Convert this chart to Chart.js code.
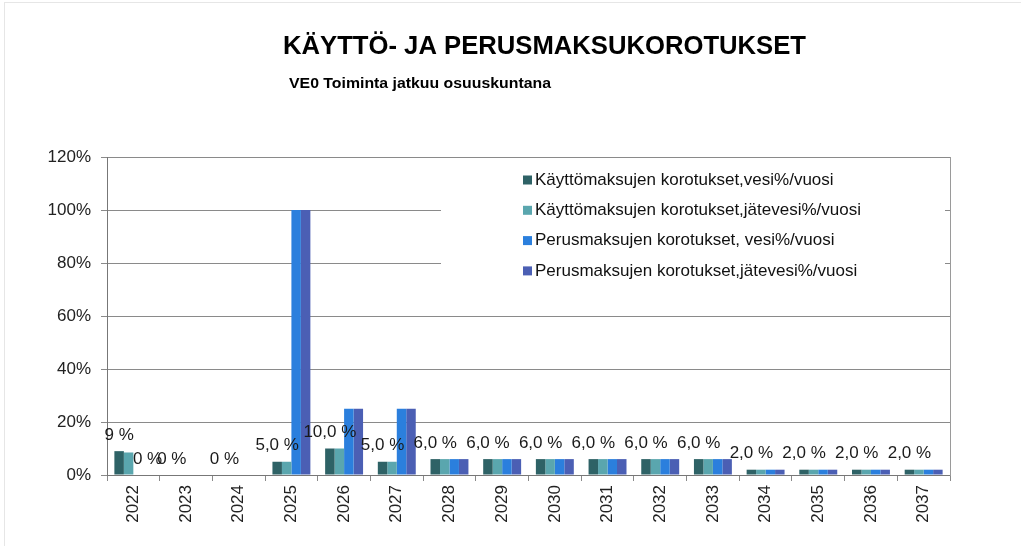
<!DOCTYPE html>
<html>
<head>
<meta charset="utf-8">
<script src="https://cdn.jsdelivr.net/npm/chart.js@4.4.0/dist/chart.umd.min.js"></script>
<style>
  html, body { margin: 0; padding: 0; background: #fff; }
  #wrap { position: relative; width: 1021px; height: 546px; overflow: hidden; }
  #frame { position: absolute; left: 4px; top: 2px; width: 1100px; height: 600px;
           border-left: 1px solid #e6e6e6; border-top: 1px solid #e6e6e6; }
  canvas { position: absolute; left: 0; top: 0; }
</style>
</head>
<body>
<div id="wrap">
  <div id="frame"></div>
  <canvas id="myChart" width="1021" height="546"></canvas>
</div>
<script>
// vuodet
var years = ["2022", "2023", "2024", "2025", "2026", "2027", "2028", "2029",
             "2030", "2031", "2032", "2033", "2034", "2035", "2036", "2037"];

// korotukset %/vuosi
var kayttoVesi     = [9, 0, 0, 5, 10, 5, 6, 6, 6, 6, 6, 6, 2, 2, 2, 2];
var kayttoJatevesi = [8.5, 0, 0, 5, 10, 5, 6, 6, 6, 6, 6, 6, 2, 2, 2, 2];
var perusVesi      = [0, 0, 0, 100, 25, 25, 6, 6, 6, 6, 6, 6, 2, 2, 2, 2];
var perusJatevesi  = [0, 0, 0, 100, 25, 25, 6, 6, 6, 6, 6, 6, 2, 2, 2, 2];

// arvojen tekstit (Excelin datalabelit)
var labelsKayttoVesi = ["9 %", "0 %", "0 %", "5,0 %", "10,0 %", "5,0 %", "6,0 %", "6,0 %",
                        "6,0 %", "6,0 %", "6,0 %", "6,0 %", "2,0 %", "2,0 %", "2,0 %", "2,0 %"];
var labelsPerusJatevesi = ["0 %", null, null, null, null, null, null, null,
                           null, null, null, null, null, null, null, null];

var yTicks = [0, 20, 40, 60, 80, 100, 120];

var FONT = "'Liberation Sans', Arial, sans-serif";
Chart.defaults.font.family = FONT;
Chart.defaults.font.size = 17;
Chart.defaults.color = "#222";

// otsikot, datalabelit ja selite
var extras = {
  id: "extras",
  afterDatasetsDraw: function (chart) {
    var ctx = chart.ctx;
    ctx.save();
    ctx.font = "17px " + FONT;
    ctx.fillStyle = "#1a1a1a";
    ctx.textAlign = "center";
    ctx.textBaseline = "middle";
    [[0, labelsKayttoVesi], [3, labelsPerusJatevesi]].forEach(function (pair) {
      var meta = chart.getDatasetMeta(pair[0]);
      meta.data.forEach(function (bar, i) {
        if (pair[1][i]) ctx.fillText(pair[1][i], bar.x, bar.y - 16);
      });
    });
    ctx.restore();
  },
  afterDraw: function (chart) {
    var ctx = chart.ctx;
    ctx.save();

    // selitelaatikko
    ctx.fillStyle = "#fff";
    ctx.fillRect(441, 163, 504, 128);
    ctx.font = "17px " + FONT;
    ctx.textBaseline = "middle";
    ctx.textAlign = "left";
    chart.data.datasets.forEach(function (ds, i) {
      var y = 180 + i * 30.3;
      ctx.fillStyle = ds.backgroundColor;
      ctx.fillRect(523, y - 4.5, 9, 9);
      ctx.fillStyle = "#111";
      ctx.fillText(ds.label, 535, y);
    });

    // otsikko
    ctx.fillStyle = "#000";
    ctx.textAlign = "center";
    ctx.font = "bold 25px " + FONT;
    var t = "KÄYTTÖ- JA PERUSMAKSUKOROTUKSET";
    var w = ctx.measureText(t).width;
    ctx.save();
    ctx.translate(544.5, 47);
    ctx.scale(523 / w, 1);
    ctx.fillText(t, 0, 0);
    ctx.restore();

    // alaotsikko
    ctx.textAlign = "left";
    ctx.font = "bold 15px " + FONT;
    var s = "VE0 Toiminta jatkuu osuuskuntana";
    var ws = ctx.measureText(s).width;
    ctx.save();
    ctx.translate(289, 84);
    ctx.scale(262 / ws, 1);
    ctx.fillText(s, 0, 0);
    ctx.restore();

    ctx.restore();
  }
};

var ctx = document.getElementById("myChart").getContext("2d");
var chart = new Chart(ctx, {
  type: "bar",
  data: {
    labels: years,
    datasets: [
      { label: "Käyttömaksujen korotukset,vesi%/vuosi", backgroundColor: "#2e6266", data: kayttoVesi },
      { label: "Käyttömaksujen korotukset,jätevesi%/vuosi", backgroundColor: "#5aa6ae", data: kayttoJatevesi },
      { label: "Perusmaksujen korotukset, vesi%/vuosi", backgroundColor: "#2b7fdd", data: perusVesi },
      { label: "Perusmaksujen korotukset,jätevesi%/vuosi", backgroundColor: "#4b5fb4", data: perusJatevesi }
    ]
  },
  plugins: [extras],
  options: {
    responsive: false,
    animation: false,
    layout: { padding: { top: 157, right: 71, left: 0, bottom: 0 } },
    datasets: { bar: { barPercentage: 1, categoryPercentage: 0.72 } },
    plugins: {
      legend: { display: false },
      title: { display: false },
      tooltip: { enabled: false }
    },
    scales: {
      x: {
        offset: true,
        grid: { offset: true, drawOnChartArea: false, tickLength: 6, color: "#8a8a8a" },
        border: { color: "#777" },
        ticks: { minRotation: 90, maxRotation: 90, padding: 4, autoSkip: false },
        afterFit: function (s) { s.height = 71; }
      },
      y: {
        position: "left",
        min: 0,
        max: 120,
        afterBuildTicks: function (s) { s.ticks = yTicks.map(function (v) { return { value: v }; }); },
        grid: { color: "#8a8a8a", tickLength: 6 },
        border: { color: "#777" },
        ticks: { padding: 10, callback: function (v) { return v + "%"; } },
        afterFit: function (s) { s.width = 107; }
      },
      y2: {
        position: "right",
        min: 0,
        max: 120,
        grid: { drawOnChartArea: false, drawTicks: false },
        border: { color: "#9a9a9a" },
        ticks: { display: false },
        afterFit: function (s) { s.width = 0; }
      }
    }
  }
});
</script>
</body>
</html>
